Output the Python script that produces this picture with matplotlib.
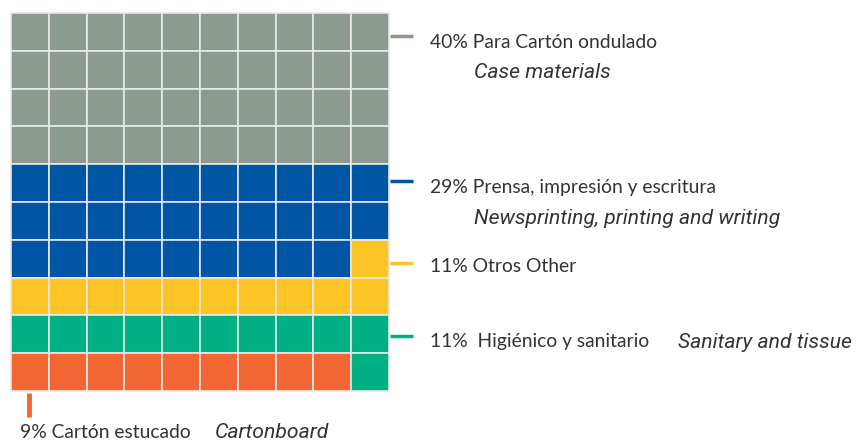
import numpy as np
import matplotlib.pyplot as plt
from matplotlib.patches import Rectangle

# shares of paper consumption (percent, one cell each)
categories = ['Para Cartón ondulado', 'Prensa, impresión y escritura', 'Otros', 'Higiénico y sanitario', 'Cartón estucado']
english = ['Case materials', 'Newsprinting, printing and writing', 'Other', 'Sanitary and tissue', 'Cartonboard']
shares = [40, 29, 11, 11, 9]
colors = ['#8c9a8f', '#0055a5', '#ffc425', '#00b085', '#f26633']

plt.rcParams['font.family'] = ['Lato', 'DejaVu Sans']
txt = '#333333'

fig = plt.figure(figsize=(8.57, 4.41), dpi=100)
ax = fig.add_axes([0, 0, 1, 1])
ax.set_xlim(0, 857)
ax.set_ylim(441, 0)
ax.axis('off')

# waffle cells, filled row by row; the last row runs right to left
cells = np.repeat(np.arange(len(shares)), shares).reshape(10, 10)
cells[9] = cells[9][::-1]
x0, y0, size = 11, 13, 37.8
for r in range(10):
    for c in range(10):
        ax.add_patch(Rectangle((x0 + c * size, y0 + r * size), size, size,
                               facecolor=colors[cells[r, c]], edgecolor='#e8e8e8', lw=1.2))

fs = 13.9
it = dict(fontsize=15.2, color=txt, va='center', style='italic', family=['Roboto', 'DejaVu Sans'])
# legend ticks and labels
ax.plot([390, 413], [36, 36], color=colors[0], lw=2.5, solid_capstyle='butt')
ax.text(430, 42, '40% ' + categories[0], fontsize=fs, color=txt, va='center')
ax.text(474, 73, english[0], **it)

ax.plot([390, 413], [181, 181], color=colors[1], lw=2.5, solid_capstyle='butt')
ax.text(430, 187, '29% ' + categories[1], fontsize=fs, color=txt, va='center')
ax.text(474, 218, english[1], **it)

ax.plot([390, 413], [263, 263], color=colors[2], lw=2.5, solid_capstyle='butt')
ax.text(430, 267, '11% ' + categories[2] + ' ' + english[2], fontsize=fs, color=txt, va='center')

ax.plot([390, 413], [336, 336], color=colors[3], lw=2.5, solid_capstyle='butt')
ax.text(430, 342, '11%  ' + categories[3], fontsize=fs, color=txt, va='center')
ax.text(678, 342, english[3], **it)

ax.plot([29, 29], [393, 417], color=colors[4], lw=3.5, solid_capstyle='butt')
ax.text(20, 433, '9% ' + categories[4], fontsize=fs, color=txt, va='center')
ax.text(215, 433, english[4], **it)

fig.savefig('out.png', dpi=100)
